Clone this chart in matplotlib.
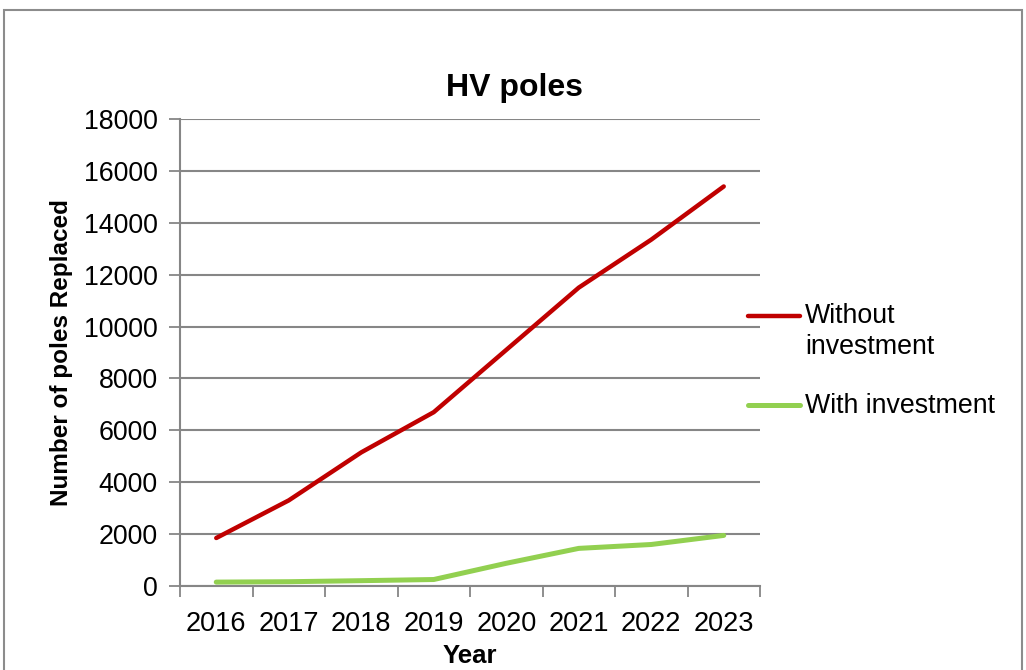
import matplotlib
matplotlib.use("Agg")
import matplotlib.pyplot as plt
from matplotlib.lines import Line2D
from matplotlib.patches import Rectangle

years = ["2016", "2017", "2018", "2019", "2020", "2021", "2022", "2023"]
without_investment = [1850, 3300, 5150, 6700, 9100, 11500, 13350, 15400]
with_investment = [150, 165, 205, 250, 875, 1450, 1600, 1950]
series_labels = ["Without\ninvestment", "With investment"]
title = "HV poles"
xlabel = "Year"
ylabel = "Number of poles Replaced"

plt.rcParams['font.family'] = ['Liberation Sans', 'DejaVu Sans']

RED = "#C00000"
GREEN = "#92D050"
GRID = "#868686"

W, H = 1026, 670
fig = plt.figure(figsize=(W / 100, H / 100), dpi=100)

# outer chart border
fig.add_artist(Rectangle((4 / W, -0.05), 1018 / W, 1 - 10 / H + 0.05,
                         transform=fig.transFigure, fill=False,
                         edgecolor="#8c8c8c", linewidth=1.5))

ax = fig.add_axes([180 / W, (H - 586) / H, (760 - 180) / W, (586 - 119) / H])

x = list(range(len(years)))
ax.plot(x, without_investment, color=RED, linewidth=3.2, solid_capstyle="round",
        solid_joinstyle="round", zorder=3)
ax.plot(x, with_investment, color=GREEN, linewidth=3.6, solid_capstyle="round",
        solid_joinstyle="round", zorder=3)

ax.set_xlim(-0.5, len(years) - 0.5)
ax.set_ylim(0, 18000)
ax.set_yticks(range(0, 18001, 2000))
ax.set_yticklabels([str(v) for v in range(0, 18001, 2000)], fontsize=19.3)
ax.set_xticks(x)
ax.set_xticklabels(years, fontsize=19.5)
ax.set_xticks([i - 0.5 for i in range(len(years) + 1)], minor=True)
ax.tick_params(axis="x", which="major", length=0, pad=18)
ax.tick_params(axis="x", which="minor", length=8, width=1.3, color=GRID)
ax.tick_params(axis="y", which="major", length=8, width=1.3, color=GRID, pad=8)

ax.yaxis.grid(True, color=GRID, linewidth=1.5)
ax.set_axisbelow(True)
for s in ["top", "right"]:
    ax.spines[s].set_visible(False)
for s in ["left", "bottom"]:
    ax.spines[s].set_color(GRID)
    ax.spines[s].set_linewidth(1.5)

ax.set_xlabel(xlabel, fontsize=18.5, fontweight="bold", labelpad=5)
ax.set_ylabel(ylabel, fontsize=17.5, fontweight="bold", labelpad=8)

fig.text(515 / W, 1 - 88 / H, title, fontsize=23, fontweight="bold",
         ha="center", va="center")

# legend (manual)
for (yy, col, lw) in [(316, RED, 3.2), (405, GREEN, 3.6)]:
    fig.add_artist(Line2D([748 / W, 800 / W], [1 - yy / H, 1 - yy / H],
                          transform=fig.transFigure, color=col, linewidth=lw,
                          solid_capstyle="round"))
fig.text(805 / W, 1 - 316 / H, "Without", fontsize=19.3, ha="left", va="center")
fig.text(805 / W, 1 - 347 / H, "investment", fontsize=19.3, ha="left", va="center")
fig.text(805 / W, 1 - 406 / H, series_labels[1], fontsize=19.3, ha="left", va="center")

fig.savefig("out.png", dpi=100)
